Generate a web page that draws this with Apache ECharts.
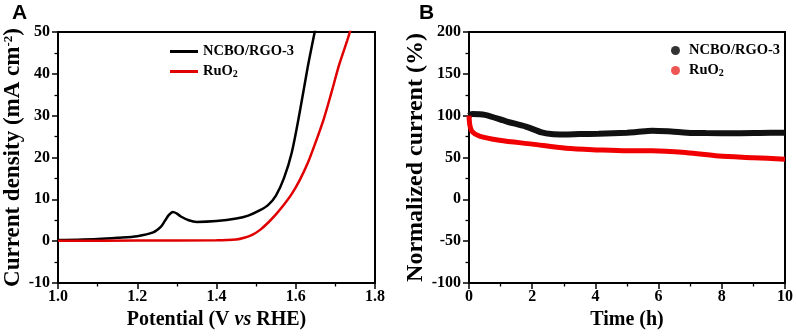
<!DOCTYPE html>
<html>
<head>
<meta charset="utf-8">
<script src="https://cdn.jsdelivr.net/npm/echarts@6/dist/echarts.min.js"></script>
<style>
  html, body { margin: 0; padding: 0; background: #fff; }
  #chart { width: 796px; height: 336px; }
</style>
</head>
<body>
<div id="chart"></div>
<script>
// panel A: LSV curves
var potentialNcbo = [1.00, 1.05, 1.10, 1.15, 1.20, 1.24, 1.26, 1.27, 1.28, 1.29, 1.30, 1.31, 1.33, 1.35, 1.40, 1.45, 1.48, 1.51, 1.53, 1.55, 1.57, 1.59, 1.61, 1.63, 1.65];
var currentNcbo = [0.3, 0.35, 0.5, 0.8, 1.2, 2.1, 3.5, 4.9, 6.3, 7.0, 6.6, 5.9, 5.0, 4.6, 4.8, 5.4, 6.1, 7.4, 8.6, 10.9, 15.0, 21.2, 30.8, 41.5, 51];
var potentialRuo2 = [1.00, 1.20, 1.40, 1.45, 1.47, 1.49, 1.51, 1.53, 1.55, 1.57, 1.59, 1.61, 1.63, 1.65, 1.67, 1.69, 1.71, 1.73, 1.74];
var currentRuo2 = [0.1, 0.15, 0.2, 0.4, 0.8, 1.5, 2.7, 4.4, 6.4, 8.7, 11.3, 14.6, 18.6, 23.6, 29.0, 35.5, 42.3, 48, 51];

// panel B: stability
var timeNcbo = [0, 0.1, 0.5, 1.2, 1.8, 2.3, 2.6, 3.0, 3.5, 4.1, 5.0, 5.3, 5.8, 6.4, 6.9, 7.5, 8.5, 9.2, 10];
var normNcbo = [100, 102, 101, 93, 87, 80, 78, 77.5, 78, 78.5, 79.7, 80.5, 82, 81, 79.7, 79.2, 79, 79.3, 79.7];
var timeRuo2 = [0, 0.03, 0.1, 0.33, 0.96, 2.0, 3.07, 4.1, 5.0, 5.8, 6.9, 7.9, 9.0, 10];
var normRuo2 = [100, 88, 81, 75.5, 70.6, 66, 61.1, 59.1, 58, 58.2, 55.8, 51.8, 49.8, 47.9];

function pairs(xs, ys) {
  return xs.map(function (x, i) { return [x, ys[i]]; });
}

var serif = "Liberation Serif";
var chart = echarts.init(document.getElementById('chart'));

var subRich = {
  n: { fontFamily: serif, fontWeight: 'bold', fontSize: 14.5, color: '#000' },
  s: { fontFamily: serif, fontWeight: 'bold', fontSize: 10, color: '#000', verticalAlign: 'bottom', padding: [6, 0, 0, 0] }
};

function axisBase() {
  return {
    axisLine: { show: true, onZero: false, lineStyle: { color: '#000', width: 2 } },
    axisTick: { show: true, inside: false, length: 6, lineStyle: { color: '#000', width: 1.5 } },
    minorTick: { show: true, splitNumber: 2, length: 3.5, lineStyle: { color: '#000', width: 1.3 } },
    splitLine: { show: false },
    axisLabel: { margin: 8, color: '#000', fontFamily: serif, fontWeight: 'bold', fontSize: 16 },
    nameLocation: 'middle',
    nameTextStyle: { color: '#000', fontFamily: serif, fontWeight: 'bold', fontSize: 20 }
  };
}

var xA = Object.assign(axisBase(), {
  type: 'value', gridIndex: 0, min: 1.0, max: 1.8, interval: 0.2,
  name: '{n|Potential (V }{i|vs}{n| RHE)}', nameGap: 25
});
xA.axisLabel.margin = 6;
xA.axisLabel.formatter = function (v) { return v.toFixed(1); };
xA.nameTextStyle.rich = {
  n: { fontFamily: serif, fontWeight: 'bold', fontSize: 20, color: '#000' },
  i: { fontFamily: serif, fontWeight: 'bold', fontStyle: 'italic', fontSize: 20, color: '#000' }
};

var yA = Object.assign(axisBase(), {
  type: 'value', gridIndex: 0, min: -10, max: 50, interval: 10,
  name: '{n|Current density (mA cm}{p|-2}{n|)}', nameGap: 32, nameRotate: 90
});
yA.nameTextStyle.rich = {
  n: { fontFamily: serif, fontWeight: 'bold', fontSize: 23, color: '#000' },
  p: { fontFamily: serif, fontWeight: 'bold', fontSize: 13, color: '#000', verticalAlign: 'top', padding: [0, 0, 10, 0] }
};

var xB = Object.assign(axisBase(), {
  type: 'value', gridIndex: 1, min: 0, max: 10, interval: 2,
  name: 'Time (h)', nameGap: 25
});
xB.axisLabel.margin = 6;
var yB = Object.assign(axisBase(), {
  type: 'value', gridIndex: 1, min: -100, max: 200, interval: 50,
  name: 'Normalized current (%)', nameGap: 37, nameRotate: 90
});
yB.nameTextStyle.fontSize = 24;

var option = {
  animation: false,
  title: [
    { text: 'A', left: 7, top: -2, textStyle: { fontFamily: 'Liberation Sans', fontWeight: 'bold', fontSize: 21, color: '#000' } },
    { text: 'B', left: 414, top: -2, textStyle: { fontFamily: 'Liberation Sans', fontWeight: 'bold', fontSize: 21, color: '#000' } }
  ],
  grid: [
    { left: 58, right: 421, top: 32, bottom: 53, show: true, borderColor: '#000', borderWidth: 2 },
    { left: 469, right: 11, top: 32, bottom: 53, show: true, borderColor: '#000', borderWidth: 2 }
  ],
  legend: [
    {
      data: ['NCBO/RGO-3', 'RuO2'],
      orient: 'vertical', left: 165, top: 39, itemGap: 5,
      icon: 'rect', itemWidth: 28, itemHeight: 3,
      textStyle: { rich: subRich },
      formatter: function (name) {
        return name === 'RuO2' ? '{n|RuO}{s|2}' : '{n|' + name + '}';
      }
    },
    {
      data: ['NCBO/RGO-3 ', 'RuO2 '],
      orient: 'vertical', left: 666, top: 38, itemGap: 5,
      icon: 'circle', itemWidth: 9, itemHeight: 9,
      textStyle: { rich: subRich, padding: [0, 0, 0, 4] },
      formatter: function (name) {
        return name === 'RuO2 ' ? '{n|RuO}{s|2}' : '{n|' + name.trim() + '}';
      }
    }
  ],
  xAxis: [xA, xB],
  yAxis: [yA, yB],
  series: [
    {
      name: 'NCBO/RGO-3', type: 'line', xAxisIndex: 0, yAxisIndex: 0,
      data: pairs(potentialNcbo, currentNcbo), smooth: 0.3, showSymbol: false,
      lineStyle: { color: '#000', width: 2.5 }, itemStyle: { color: '#000' }
    },
    {
      name: 'RuO2', type: 'line', xAxisIndex: 0, yAxisIndex: 0,
      data: pairs(potentialRuo2, currentRuo2), smooth: 0.3, showSymbol: false,
      lineStyle: { color: '#e00000', width: 2.5 }, itemStyle: { color: '#e00000' }
    },
    {
      name: 'NCBO/RGO-3 ', type: 'line', xAxisIndex: 1, yAxisIndex: 1,
      data: pairs(timeNcbo, normNcbo), smooth: 0.3, showSymbol: false,
      lineStyle: { color: '#111', width: 6 }, itemStyle: { color: '#333' }
    },
    {
      name: 'RuO2 ', type: 'line', xAxisIndex: 1, yAxisIndex: 1,
      data: pairs(timeRuo2, normRuo2), smooth: 0.3, showSymbol: false,
      lineStyle: { color: '#f00000', width: 5 }, itemStyle: { color: '#ee5555' }
    }
  ]
};
chart.setOption(option);
</script>
</body>
</html>
